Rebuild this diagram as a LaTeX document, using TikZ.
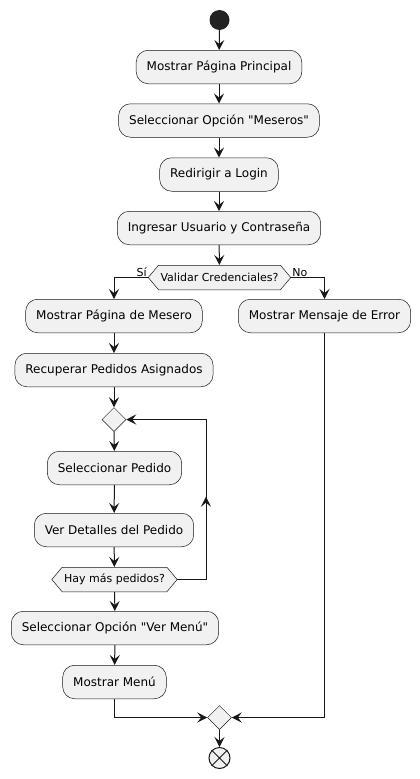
\documentclass[tikz,border=0pt]{standalone}
\usepackage{fontspec}
\setmainfont{DejaVu Sans}
\usetikzlibrary{arrows.meta}
\usetikzlibrary{shapes.geometric}
\usetikzlibrary{shapes.symbols}
\usetikzlibrary{decorations.markings}
\definecolor{umlfill}{HTML}{F1F1F1}
\definecolor{umlline}{HTML}{181818}
\definecolor{umlstart}{HTML}{222222}

\begin{document}
\begin{tikzpicture}[x=1pt, y=-1pt,
    act/.style={draw=umlline, line width=0.5pt, fill=umlfill, rounded corners=12pt, minimum height=33.5pt, inner xsep=10.5pt, inner ysep=0pt, font=\fontsize{12}{14}\selectfont},
    choice/.style={signal, signal to=west and east, signal pointer angle=100, draw=umlline, line width=0.5pt, fill=umlfill, minimum height=24.5pt, inner xsep=2pt, inner ysep=0pt, font=\fontsize{11}{13}\selectfont},
    merge/.style={diamond, draw=umlline, line width=0.5pt, fill=umlfill, minimum width=24pt, minimum height=24pt, inner sep=0pt},
    flow/.style={draw=umlline, line width=1pt, -{Stealth[length=10pt, width=10pt, inset=4pt]}},
    guard/.style={font=\fontsize{11}{13}\selectfont, inner sep=1pt},
    midflow/.style={decoration={markings, mark=at position #1 with {\arrow{Stealth[length=10pt, width=10pt, inset=4pt]}}}, postaction={decorate}}
]
    \useasboundingbox (0, 0) rectangle (420, 779);
    \node[circle, fill=umlstart, minimum size=20pt, inner sep=0pt] (start) at (219.5, 20) {};
    \node[act] (principal) at (219, 67) {Mostrar Página Principal};
    \node[act] (meseros) at (219, 120.5) {Seleccionar Opción \textquotedbl Meseros\textquotedbl};
    \node[act] (login) at (219, 174.5) {Redirigir a Login};
    \node[act] (usuario) at (219, 228) {Ingresar Usuario y Contraseña};
    \node[choice] (validar) at (219.5, 277.5) {Validar Credenciales?};
    \node[act] (mesero) at (114, 316) {Mostrar Página de Mesero};
    \node[act] (error) at (324.5, 316) {Mostrar Mensaje de Error};
    \node[act] (recuperar) at (114, 370) {Recuperar Pedidos Asignados};
    \node[merge] (bucle) at (114, 419.5) {};
    \node[act] (pedido) at (114.5, 468) {Seleccionar Pedido};
    \node[act] (detalles) at (114, 530) {Ver Detalles del Pedido};
    \node[choice] (haymas) at (114.5, 579.5) {Hay más pedidos?};
    \node[act] (vermenu) at (115, 628) {Seleccionar Opción \textquotedbl Ver Menú\textquotedbl};
    \node[act] (menu) at (114.5, 682) {Mostrar Menú};
    \node[merge] (union) at (219.5, 717.5) {};
    \node[circle, draw=umlline, line width=1pt, fill=umlfill, minimum size=21pt, inner sep=0pt] (fin) at (219.5, 758) {};
    \draw[umlline, line width=1pt] (fin.north west) -- (fin.south east) (fin.north east) -- (fin.south west);
    \coordinate (vuelta) at (206, 579.5);

    \draw[flow] (start) -- (principal);
    \draw[flow] (principal) -- (meseros);
    \draw[flow] (meseros) -- (login);
    \draw[flow] (login) -- (usuario);
    \draw[flow] (usuario) -- (validar);
    \draw[flow] (validar.west) -| (mesero.north);
    \draw[flow] (validar.east) -| (error.north);
    \node[guard, anchor=south east] (si) at (validar.west) {Sí};
    \node[guard, anchor=south west] (no) at (validar.east) {No};
    \draw[flow] (mesero) -- (recuperar);
    \draw[flow] (recuperar) -- (bucle);
    \draw[flow] (bucle) -- (pedido);
    \draw[flow] (pedido) -- (detalles);
    \draw[flow] (detalles) -- (haymas);
    \draw[flow, midflow=0.415] (haymas.east) -- (vuelta) |- (bucle.east);
    \draw[flow] (haymas) -- (vermenu);
    \draw[flow] (vermenu) -- (menu);
    \draw[flow] (menu.south) |- (union.west);
    \draw[flow] (error.south) |- (union.east);
    \draw[flow] (union) -- (fin);
\end{tikzpicture}
\end{document}
